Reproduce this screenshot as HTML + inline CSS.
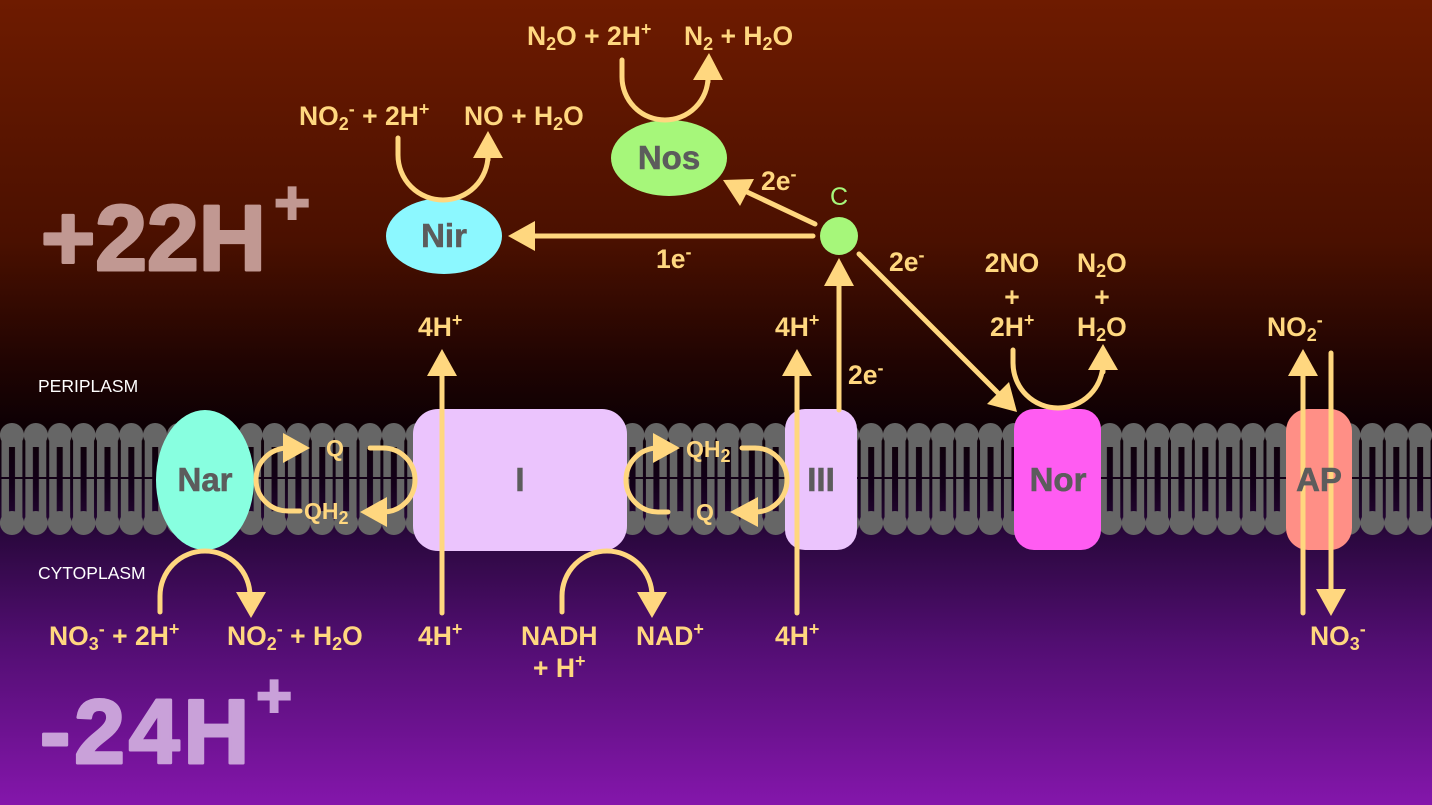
<!DOCTYPE html>
<html><head><meta charset="utf-8"><style>
html,body{margin:0;padding:0;background:#000;}
svg{display:block;}
text{font-family:"Liberation Sans",Arial,sans-serif;white-space:pre;}
.l{font-size:26.5px;font-weight:bold;fill:#ffd77f;}
.q{font-size:23px;font-weight:bold;fill:#ffd77f;}
.s{font-size:18px;}
.c{font-size:33px;font-weight:bold;fill:#5c5c5c;text-anchor:middle;stroke:#5c5c5c;stroke-width:0.6;}
.m{font-size:17.5px;fill:#ffffff;}
</style></head><body>
<svg width="1432" height="805" viewBox="0 0 1432 805" xmlns="http://www.w3.org/2000/svg">
<defs>
<linearGradient id="bg" x1="0" y1="0" x2="0" y2="805" gradientUnits="userSpaceOnUse">
<stop offset="0" stop-color="#6e1b00"/>
<stop offset="0.30" stop-color="#4a1000"/>
<stop offset="0.45" stop-color="#200402"/>
<stop offset="0.53" stop-color="#0d0004"/>
<stop offset="0.60" stop-color="#120018"/>
<stop offset="0.67" stop-color="#2c0840"/>
<stop offset="0.80" stop-color="#520e72"/>
<stop offset="1" stop-color="#8416ab"/>
</linearGradient>
<pattern id="lip" patternUnits="userSpaceOnUse" x="0" y="410" width="23.867" height="130">
<g fill="#666666">
<circle cx="11.93" cy="25" r="12"/>
<rect x="1.5" y="25" width="20.9" height="12"/>
<rect x="1.5" y="25" width="7.5" height="42"/>
<rect x="15" y="25" width="7.4" height="42"/>
<rect x="1.5" y="69" width="7.5" height="40"/>
<rect x="15" y="69" width="7.4" height="40"/>
<rect x="1.5" y="103" width="20.9" height="10"/>
<circle cx="11.93" cy="113" r="12"/>
</g>
</pattern>
</defs>

<rect x="0" y="0" width="1432" height="805" fill="url(#bg)"/>
<!-- membrane -->
<rect x="0" y="410" width="1432" height="130" fill="url(#lip)"/>

<!-- big proton texts -->
<text x="41" y="270" font-size="93" font-weight="bold" fill="#c19892" stroke="#c19892" stroke-width="3" stroke-linejoin="round">+22H</text>
<text x="274" y="224" font-size="62" font-weight="bold" fill="#c19892" stroke="#c19892" stroke-width="2">+</text>
<text x="40" y="763" font-size="91" font-weight="bold" fill="#c9a1d9" stroke="#c9a1d9" stroke-width="3" stroke-linejoin="round" letter-spacing="4">-24H</text>
<text x="256" y="717" font-size="62" font-weight="bold" fill="#c9a1d9" stroke="#c9a1d9" stroke-width="2">+</text>

<text class="m" x="38" y="392">PERIPLASM</text>
<text class="m" x="38" y="579">CYTOPLASM</text>

<!-- proteins -->
<ellipse cx="205" cy="480" rx="49" ry="70" fill="#88ffe0"/>
<rect x="413" y="409" width="214" height="142" rx="25" fill="#ebc4fd"/>
<rect x="785" y="409" width="72" height="141" rx="20" fill="#ebc4fd"/>
<rect x="1014" y="409" width="87" height="141" rx="20" fill="#ff5cf2"/>
<rect x="1286" y="409" width="66" height="141" rx="22" fill="#ff8f86"/>
<ellipse cx="444" cy="236" rx="58" ry="38" fill="#8cf8ff"/>
<ellipse cx="669" cy="158" rx="58" ry="38" fill="#a6f77a"/>
<circle cx="839" cy="236" r="19" fill="#a6f77a"/>

<!-- arrows -->
<g stroke="#ffd77f" stroke-width="5" fill="none" stroke-linecap="round">
<path d="M160,612 L160,596 A45,45 0 0 1 250,596 L250,594"/>
<path d="M398,138 L398,155 A45,45 0 0 0 488,155 L488,160"/>
<path d="M622,60 L622,77 A43,43 0 0 0 708,77 L708,82"/>
<path d="M1013,350 L1013,363 A45,45 0 0 0 1103,363 L1103,372"/>
<path d="M562,612 L562,596 A45,45 0 0 1 652,596 L652,594"/>
<line x1="442" y1="613" x2="442" y2="372"/>
<line x1="797" y1="613" x2="797" y2="372"/>
<line x1="839" y1="410" x2="839" y2="283"/>
<line x1="1303" y1="613" x2="1303" y2="372"/>
<line x1="1331" y1="353" x2="1331" y2="592"/>
<line x1="813" y1="236" x2="532" y2="236"/>
<line x1="815" y1="224" x2="747" y2="192"/>
<line x1="859" y1="254" x2="998" y2="393"/>
<path d="M300,511 L288,511 A32,31.5 0 0 1 288,448 L290,448"/>
<path d="M370,448 L383,448 A32,32 0 0 1 383,512"/>
<path d="M668,512 L658,512 A32,32 0 0 1 658,448 L660,448"/>
<path d="M742,448 L755,448 A32,32 0 0 1 755,512"/>
</g>
<g fill="#ffd77f">
<polygon points="236,592 266,592 251,618"/>
<polygon points="473,158 503,158 488,131"/>
<polygon points="693,80 723,80 709,53"/>
<polygon points="1088,370 1118,370 1103,344"/>
<polygon points="637,592 667,592 652,618"/>
<polygon points="427,376 457,376 442,349"/>
<polygon points="782,376 812,376 797,349"/>
<polygon points="824,286 854,286 839,258"/>
<polygon points="1288,376 1318,376 1303,349"/>
<polygon points="1316,589 1346,589 1331,616"/>
<polygon points="535,221 535,251 508,236"/>
<polygon points="754,179 740,206 723,180"/>
<polygon points="1009,382 987,404 1017,412"/>
<polygon points="283,433 283,463 310,448"/>
<polygon points="387,497 387,527 360,512"/>
<polygon points="653,433 653,463 680,448"/>
<polygon points="758,497 758,527 730,512"/>
</g>

<!-- component labels -->
<text class="c" x="205" y="491">Nar</text>
<text class="c" x="520" y="491">I</text>
<text class="c" x="821" y="491">III</text>
<text class="c" x="1058" y="491">Nor</text>
<text class="c" x="1319" y="491">AP</text>
<text class="c" x="444" y="247">Nir</text>
<text class="c" x="669" y="169">Nos</text>
<text x="839" y="205" font-size="25" fill="#a6f77a" text-anchor="middle">C</text>

<!-- reaction labels -->
<text class="l" x="527" y="45">N<tspan class="s" dy="5">2</tspan><tspan dy="-5">O + 2H</tspan><tspan class="s" dy="-10">+</tspan></text>
<text class="l" x="684" y="45">N<tspan class="s" dy="5">2</tspan><tspan dy="-5"> + H</tspan><tspan class="s" dy="5">2</tspan><tspan dy="-5">O</tspan></text>
<text class="l" x="299" y="125">NO<tspan class="s" dy="5">2</tspan><tspan class="s" dy="-15">-</tspan><tspan dy="10"> + 2H</tspan><tspan class="s" dy="-10">+</tspan></text>
<text class="l" x="464" y="125">NO + H<tspan class="s" dy="5">2</tspan><tspan dy="-5">O</tspan></text>
<text class="l" x="761" y="190">2e<tspan class="s" dy="-10">-</tspan></text>
<text class="l" x="656" y="268">1e<tspan class="s" dy="-10">-</tspan></text>
<text class="l" x="889" y="271">2e<tspan class="s" dy="-10">-</tspan></text>
<text class="l" x="1012" y="272" text-anchor="middle">2NO</text>
<text class="l" x="1012" y="306" text-anchor="middle">+</text>
<text class="l" x="990" y="336">2H<tspan class="s" dy="-10">+</tspan></text>
<text class="l" x="1077" y="272">N<tspan class="s" dy="5">2</tspan><tspan dy="-5">O</tspan></text>
<text class="l" x="1102" y="306" text-anchor="middle">+</text>
<text class="l" x="1077" y="336">H<tspan class="s" dy="5">2</tspan><tspan dy="-5">O</tspan></text>
<text class="l" x="418" y="336">4H<tspan class="s" dy="-10">+</tspan></text>
<text class="l" x="775" y="336">4H<tspan class="s" dy="-10">+</tspan></text>
<text class="l" x="848" y="384">2e<tspan class="s" dy="-10">-</tspan></text>
<text class="l" x="1267" y="336">NO<tspan class="s" dy="5">2</tspan><tspan class="s" dy="-15">-</tspan></text>

<text class="l" x="49" y="645">NO<tspan class="s" dy="5">3</tspan><tspan class="s" dy="-15">-</tspan><tspan dy="10"> + 2H</tspan><tspan class="s" dy="-10">+</tspan></text>
<text class="l" x="227" y="645">NO<tspan class="s" dy="5">2</tspan><tspan class="s" dy="-15">-</tspan><tspan dy="10"> + H</tspan><tspan class="s" dy="5">2</tspan><tspan dy="-5">O</tspan></text>
<text class="l" x="418" y="645">4H<tspan class="s" dy="-10">+</tspan></text>
<text class="l" x="521" y="645">NADH</text>
<text class="l" x="533" y="677">+ H<tspan class="s" dy="-10">+</tspan></text>
<text class="l" x="636" y="645">NAD<tspan class="s" dy="-10">+</tspan></text>
<text class="l" x="775" y="645">4H<tspan class="s" dy="-10">+</tspan></text>
<text class="l" x="1310" y="645">NO<tspan class="s" dy="5">3</tspan><tspan class="s" dy="-15">-</tspan></text>

<!-- Q cycle labels -->
<text class="q" x="326" y="456">Q</text>
<text class="q" x="304" y="519">QH<tspan class="s" dy="5">2</tspan></text>
<text class="q" x="686" y="457">QH<tspan class="s" dy="5">2</tspan></text>
<text class="q" x="696" y="520">Q</text>
</svg>
</body></html>
